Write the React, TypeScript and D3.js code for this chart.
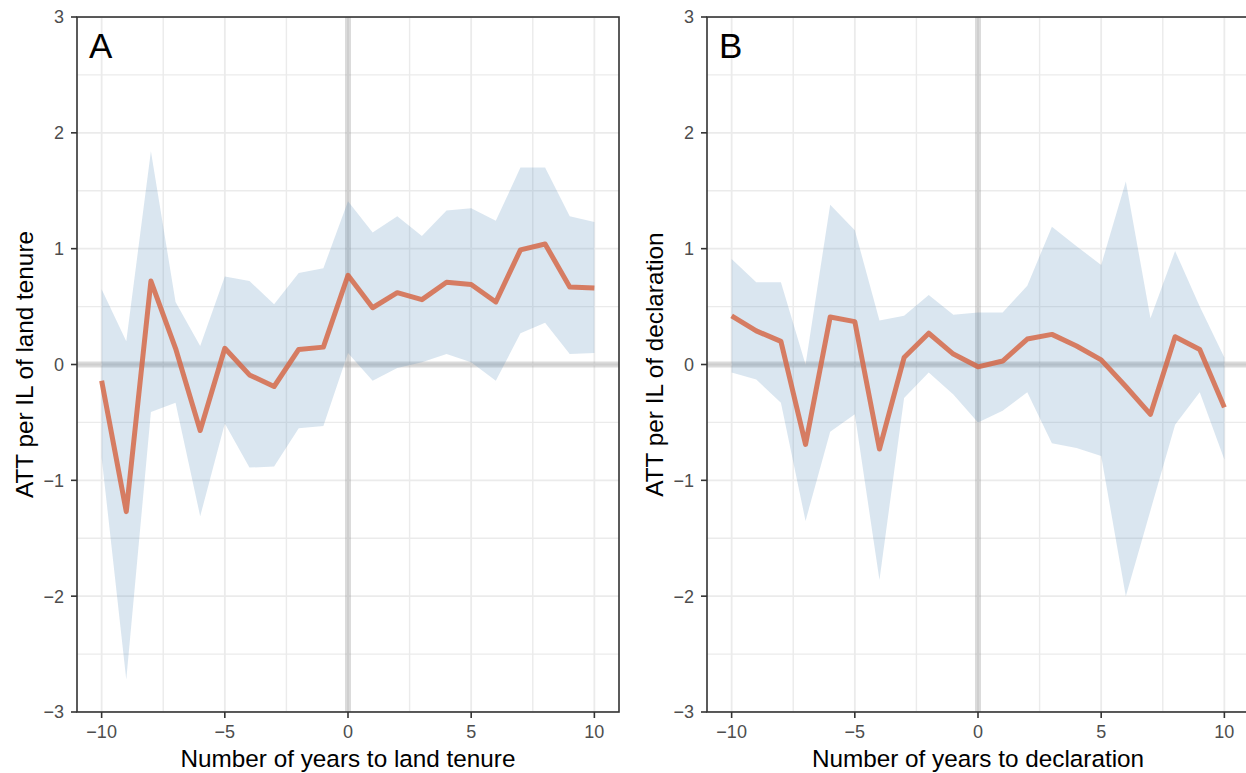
import React from 'react';
import * as d3 from 'd3';

const years = [-10, -9, -8, -7, -6, -5, -4, -3, -2, -1, 0, 1, 2, 3, 4, 5, 6, 7, 8, 9, 10];

// panel A: land tenure
const attTenure = [-0.14, -1.27, 0.72, 0.14, -0.57, 0.14, -0.09, -0.19, 0.13, 0.15, 0.77, 0.49, 0.62, 0.56, 0.71, 0.69, 0.54, 0.99, 1.04, 0.67, 0.66];
const upperTenure = [0.65, 0.2, 1.84, 0.54, 0.16, 0.76, 0.72, 0.52, 0.79, 0.83, 1.41, 1.14, 1.28, 1.11, 1.33, 1.35, 1.24, 1.7, 1.7, 1.28, 1.23];
const lowerTenure = [-0.8, -2.72, -0.41, -0.33, -1.31, -0.51, -0.89, -0.88, -0.55, -0.53, 0.1, -0.14, -0.03, 0.02, 0.09, 0.02, -0.14, 0.27, 0.36, 0.09, 0.1];

// panel B: declaration
const attDecl = [0.42, 0.29, 0.2, -0.69, 0.41, 0.37, -0.73, 0.06, 0.27, 0.09, -0.02, 0.03, 0.22, 0.26, 0.16, 0.04, -0.19, -0.43, 0.24, 0.13, -0.37];
const upperDecl = [0.91, 0.71, 0.71, 0.0, 1.38, 1.16, 0.38, 0.42, 0.6, 0.43, 0.45, 0.45, 0.68, 1.19, 1.02, 0.86, 1.58, 0.4, 0.98, 0.5, 0.06];
const lowerDecl = [-0.07, -0.13, -0.33, -1.35, -0.58, -0.43, -1.86, -0.29, -0.07, -0.26, -0.5, -0.4, -0.24, -0.68, -0.72, -0.79, -2.0, -1.26, -0.52, -0.24, -0.82];

const xTicks = [-10, -5, 0, 5, 10];
const xMinor = [-7.5, -2.5, 2.5, 7.5];
const yTicks = [-3, -2, -1, 0, 1, 2, 3];
const yMinor = [-2.5, -1.5, -0.5, 0.5, 1.5, 2.5];

const font = '"Liberation Sans", Arial, Helvetica, sans-serif';
const fmt = (v: number) => (v < 0 ? '\u2212' + Math.abs(v) : String(v));

function Panel({ left, letter, att, upper, lower, xTitle, yTitle }: any) {
  const width = 542;
  const top = 17;
  const bottom = 712;
  const x = d3.scaleLinear().domain([-11, 11]).range([left, left + width]);
  const y = d3.scaleLinear().domain([-3, 3]).range([bottom, top]);

  const rows = years.map((yr, i) => ({ yr, att: att[i], hi: upper[i], lo: lower[i] }));
  const area = d3.area<any>().x(d => x(d.yr)).y0(d => y(d.lo)).y1(d => y(d.hi));
  const line = d3.line<any>().x(d => x(d.yr)).y(d => y(d.att));
  const clipId = 'clip' + letter;

  return (
    <g>
      <defs>
        <clipPath id={clipId}>
          <rect x={left} y={top} width={width} height={bottom - top} />
        </clipPath>
      </defs>
      <g clipPath={`url(#${clipId})`}>
        {yMinor.map(v => (
          <line key={'ym' + v} x1={left} x2={left + width} y1={y(v)} y2={y(v)} stroke="#ebebeb" strokeWidth={1.4} />
        ))}
        {xMinor.map(v => (
          <line key={'xm' + v} x1={x(v)} x2={x(v)} y1={top} y2={bottom} stroke="#ebebeb" strokeWidth={1.4} />
        ))}
        {yTicks.map(v => (
          <line key={'yg' + v} x1={left} x2={left + width} y1={y(v)} y2={y(v)} stroke="#ebebeb" strokeWidth={1.8} />
        ))}
        {xTicks.map(v => (
          <line key={'xg' + v} x1={x(v)} x2={x(v)} y1={top} y2={bottom} stroke="#ebebeb" strokeWidth={1.8} />
        ))}
        <line x1={x(0)} x2={x(0)} y1={top} y2={bottom} stroke="#999" strokeOpacity={0.35} strokeWidth={6} />
        <line x1={left} x2={left + width} y1={y(0)} y2={y(0)} stroke="#999" strokeOpacity={0.35} strokeWidth={6} />
        <path d={area(rows) || ''} fill="#4682b4" fillOpacity={0.2} />
        <path d={line(rows) || ''} fill="none" stroke="#d4623f" strokeOpacity={0.8} strokeWidth={5} strokeLinejoin="round" />
      </g>
      <rect x={left} y={top} width={width} height={bottom - top} fill="none" stroke="#333" strokeWidth={1.6} />
      {yTicks.map(v => (
        <g key={'yt' + v}>
          <line x1={left - 6} x2={left} y1={y(v)} y2={y(v)} stroke="#333" strokeWidth={1.6} />
          <text x={left - 13} y={y(v)} dy="0.36em" textAnchor="end" fontSize={18} fill="#4d4d4d" fontFamily={font}>{fmt(v)}</text>
        </g>
      ))}
      {xTicks.map(v => (
        <g key={'xt' + v}>
          <line x1={x(v)} x2={x(v)} y1={bottom} y2={bottom + 6} stroke="#333" strokeWidth={1.6} />
          <text x={x(v)} y={bottom + 26} textAnchor="middle" fontSize={18} fill="#4d4d4d" fontFamily={font}>{fmt(v)}</text>
        </g>
      ))}
      <text x={left + 12} y={58} fontSize={35} fill="#000" fontFamily={font}>{letter}</text>
      <text x={left + width / 2} y={767} textAnchor="middle" fontSize={24.3} fill="#000" fontFamily={font}>{xTitle}</text>
      <text transform={`translate(${left - 44},${(top + bottom) / 2}) rotate(-90)`} textAnchor="middle" fontSize={24.3} fill="#000" fontFamily={font}>{yTitle}</text>
    </g>
  );
}

export default function App() {
  return (
    <svg width={1246} height={773} style={{ position: 'absolute', left: 0, top: 0, background: '#fff' }}>
      <rect width={1246} height={773} fill="#fff" />
      <Panel left={77} letter="A" att={attTenure} upper={upperTenure} lower={lowerTenure}
        xTitle="Number of years to land tenure" yTitle="ATT per IL of land tenure" />
      <Panel left={707} letter="B" att={attDecl} upper={upperDecl} lower={lowerDecl}
        xTitle="Number of years to declaration" yTitle="ATT per IL of declaration" />
    </svg>
  );
}
